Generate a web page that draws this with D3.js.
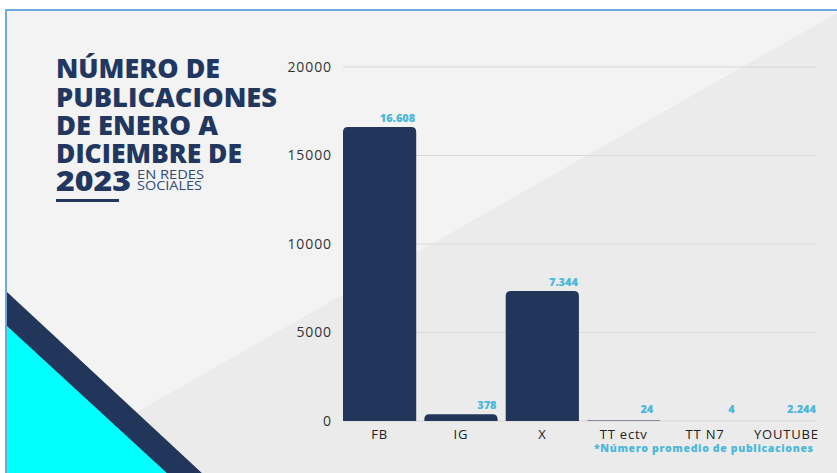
<!DOCTYPE html>
<html>
<head>
<meta charset="utf-8">
<script src="https://cdn.jsdelivr.net/npm/d3@7"></script>
<style>
  body { margin: 0; background: #fff; }
  svg { display: block; }
</style>
</head>
<body>
<svg width="837" height="473"></svg>
<script>
// data (YOUTUBE is plotted as 2.244, the way the original chart does it)
var categories = ["FB", "IG", "X", "TT ectv", "TT N7", "YOUTUBE"];
var values = [16608, 378, 7344, 24, 4, 2.244];
var valueLabels = ["16.608", "378", "7.344", "24", "4", "2.244"];
var yTicks = [0, 5000, 10000, 15000, 20000];
var titleLines = ["NÚMERO DE", "PUBLICACIONES", "DE ENERO A", "DICIEMBRE DE", "2023"];

var svg = d3.select("svg"),
    width = +svg.attr("width"),
    height = +svg.attr("height");

var navy = "#22365b",
    accent = "#4bb8da",
    font = "'Open Sans', sans-serif";

// slide background
svg.append("rect")
  .attr("x", 6).attr("y", 10)
  .attr("width", width).attr("height", height)
  .attr("fill", "#f3f3f3")
  .attr("stroke", "#6fa8dc")
  .attr("stroke-width", 2);

// darker diagonal half
svg.append("polygon")
  .attr("points", [[837, 13], [837, 473], [0, 473], [0, 490]].join(" "))
  .attr("fill", "#ebebeb");

// corner decoration
svg.append("polygon")
  .attr("points", [[7, 292], [204, 475], [7, 475]].join(" "))
  .attr("fill", navy);
svg.append("polygon")
  .attr("points", [[7, 326], [169, 475], [7, 475]].join(" "))
  .attr("fill", "#00ffff");

// left border on top
svg.append("line")
  .attr("x1", 6).attr("x2", 6).attr("y1", 10).attr("y2", height)
  .attr("stroke", "#6fa8dc").attr("stroke-width", 2);

// title
var title = svg.append("g").attr("fill", "#22375f")
  .style("font-family", font)
  .style("font-weight", 800);

var titleWidths = [164, 221, 162, 186, 75];
var titleBase = [78, 107, 135, 163, 191];
titleLines.forEach(function(t, i) {
  title.append("text")
    .attr("x", 56).attr("y", titleBase[i])
    .attr("font-size", i == 4 ? 28 : 27)
    .attr("textLength", titleWidths[i])
    .attr("lengthAdjust", "spacingAndGlyphs")
    .text(t);
});

svg.append("text")
  .attr("x", 137).attr("y", 179)
  .attr("textLength", 67).attr("lengthAdjust", "spacingAndGlyphs")
  .style("font-family", font)
  .attr("font-size", 13).attr("fill", "#2f4b7a")
  .text("EN REDES");
svg.append("text")
  .attr("x", 137).attr("y", 190)
  .attr("textLength", 65).attr("lengthAdjust", "spacingAndGlyphs")
  .style("font-family", font)
  .attr("font-size", 13).attr("fill", "#2f4b7a")
  .text("SOCIALES");

svg.append("rect")
  .attr("x", 56).attr("y", 199)
  .attr("width", 63).attr("height", 3)
  .attr("fill", "#22375f");

// scales
var x = d3.scaleBand()
  .domain(categories)
  .range([343, 823])
  .paddingInner(0.1)
  .paddingOuter(0);

var y = d3.scaleLinear()
  .domain([0, 20000])
  .range([421, 67]);

// grid
svg.append("g")
  .selectAll("line")
  .data(yTicks)
  .enter().append("line")
  .attr("x1", 343).attr("x2", 816)
  .attr("y1", d => y(d)).attr("y2", d => y(d))
  .attr("stroke", "#d9d9d9")
  .attr("stroke-width", 1.2);

// y axis labels
var yAxis = svg.append("g")
  .attr("transform", "translate(332,0)")
  .call(d3.axisLeft(y).tickValues(yTicks).tickSize(0).tickPadding(0).tickFormat(d3.format("d")));
yAxis.select(".domain").remove();
yAxis.selectAll("text")
  .style("font-family", font)
  .style("letter-spacing", "0.9px")
  .attr("font-size", 14)
  .attr("fill", "#333");

// bars with rounded tops
var r = 5;
function barPath(i) {
  var x0 = x(categories[i]), x1 = x0 + x.bandwidth(),
      y0 = y(0), y1 = y(values[i]);
  var rr = Math.min(r, (y0 - y1));
  return "M" + x0 + "," + y0 +
    "V" + (y1 + rr) +
    "Q" + x0 + "," + y1 + " " + (x0 + rr) + "," + y1 +
    "H" + (x1 - rr) +
    "Q" + x1 + "," + y1 + " " + x1 + "," + (y1 + rr) +
    "V" + y0 + "Z";
}

svg.append("g")
  .selectAll("path")
  .data(values)
  .enter().append("path")
  .attr("d", (d, i) => barPath(i))
  .attr("fill", navy);

// value labels
svg.append("g")
  .selectAll("text")
  .data(valueLabels)
  .enter().append("text")
  .attr("x", (d, i) => x(categories[i]) + x.bandwidth() - (values[i] < 100 ? 7 : 1))
  .attr("y", (d, i) => Math.min(y(values[i]) - 5, 413))
  .attr("text-anchor", "end")
  .style("font-family", font)
  .style("font-weight", 800)
  .attr("font-size", 11)
  .attr("fill", accent)
  .text(d => d);

// category labels
svg.append("g")
  .selectAll("text")
  .data(categories)
  .enter().append("text")
  .attr("x", d => x(d) + x.bandwidth() / 2)
  .attr("y", 439)
  .attr("text-anchor", "middle")
  .style("font-family", font)
  .style("letter-spacing", "0.8px")
  .attr("font-size", 13)
  .attr("fill", "#222")
  .text(d => d);

// footnote
svg.append("text")
  .attr("x", 813).attr("y", 452)
  .attr("text-anchor", "end")
  .attr("textLength", 219).attr("lengthAdjust", "spacing")
  .style("font-family", font)
  .style("font-weight", 800)
  .attr("font-size", 10.5)
  .attr("fill", accent)
  .text("*Número promedio de publicaciones");
</script>
</body>
</html>
